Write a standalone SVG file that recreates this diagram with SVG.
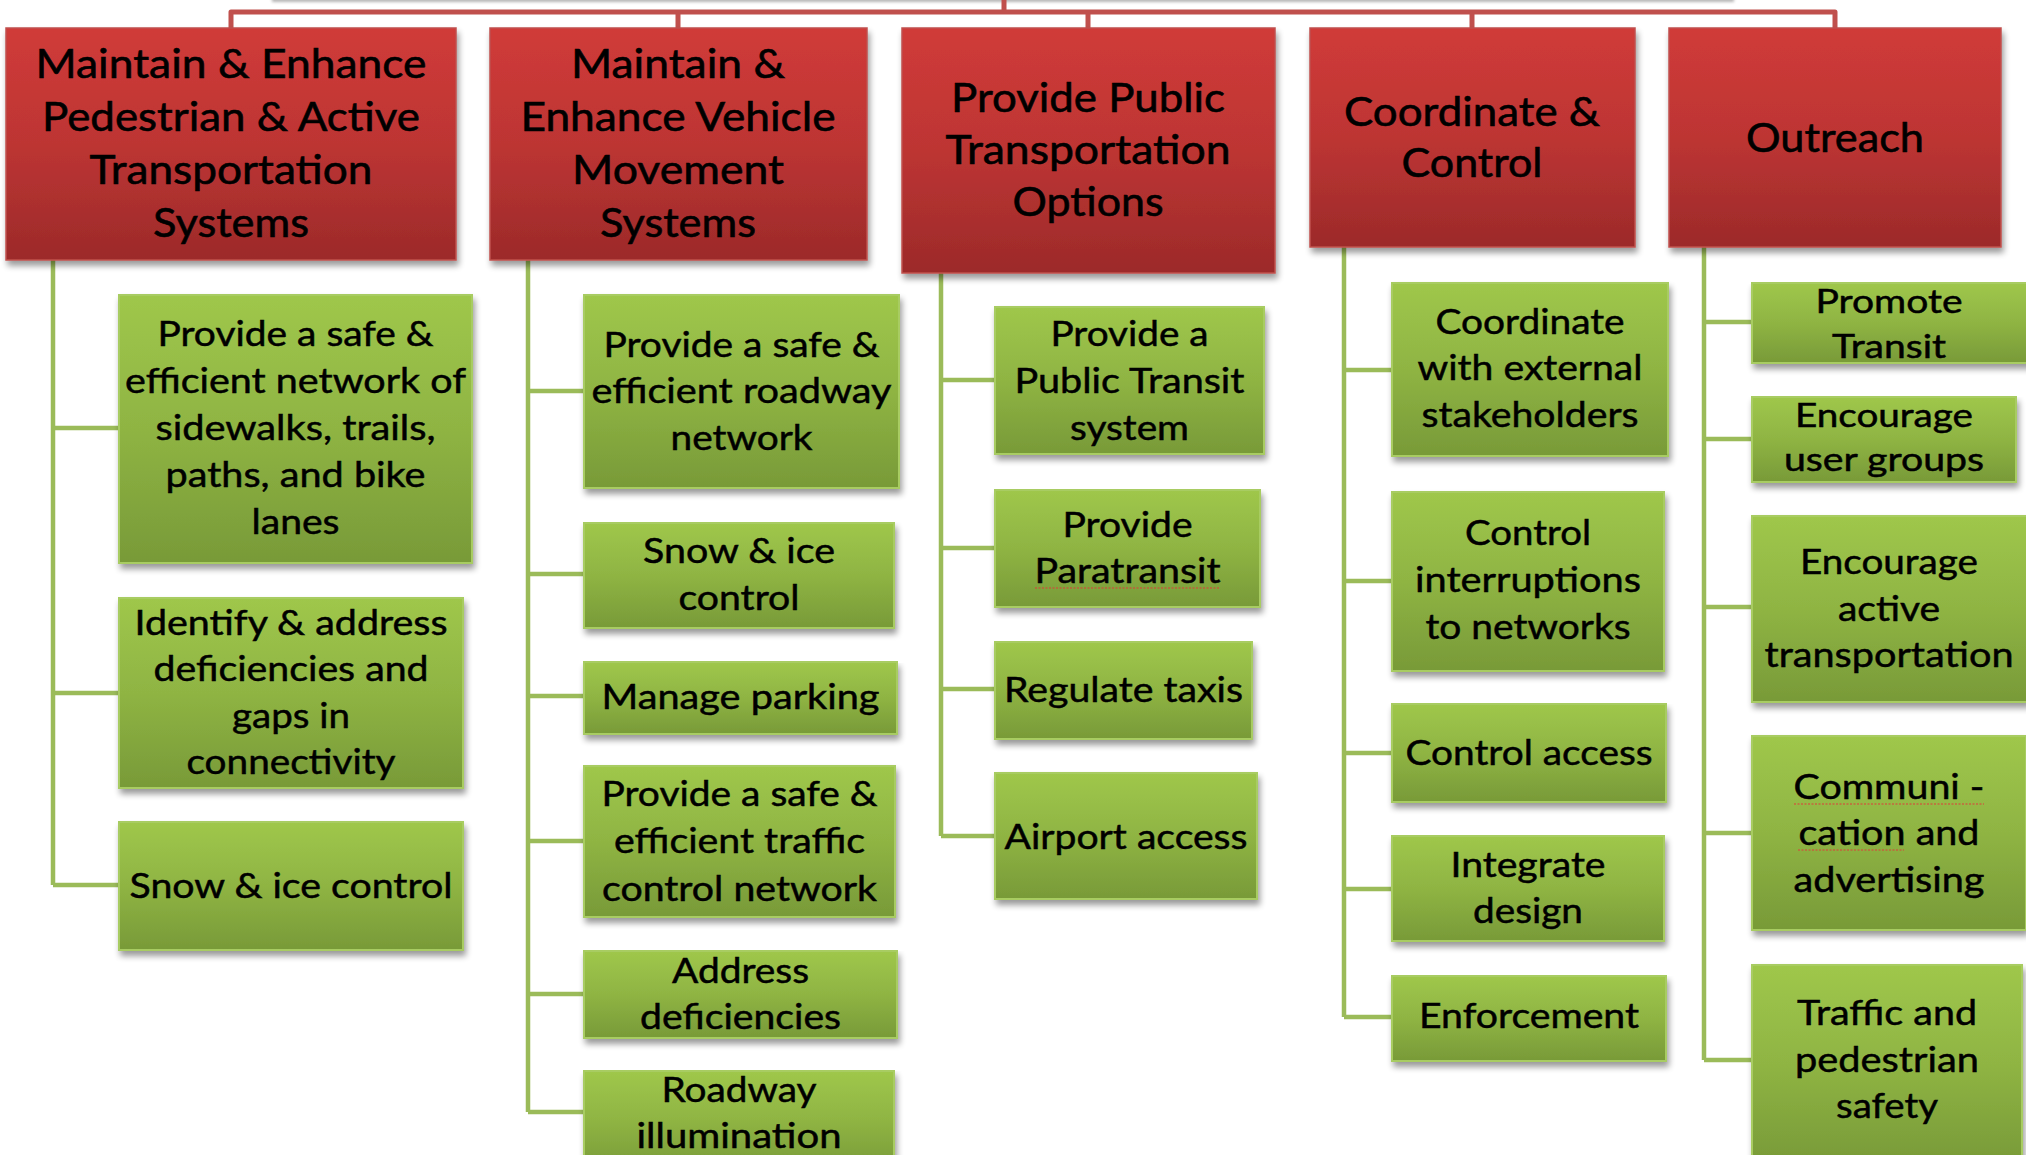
<svg xmlns="http://www.w3.org/2000/svg" width="2026" height="1155" viewBox="0 0 2026 1155">
  <style>
    .h { font-family: Lato, "Open Sans", "Liberation Sans", sans-serif; font-size: 41px; text-anchor: middle; fill: #000; stroke: #000; stroke-width: 0.6px; }
    .g { font-family: Lato, "Open Sans", "Liberation Sans", sans-serif; font-size: 35px; text-anchor: middle; fill: #000; stroke: #000; stroke-width: 0.5px; }
    .gs { font-size: 33px; }
    .goal { fill: url(#redFill); stroke: #c0504d; stroke-width: 1.5; filter: url(#shadow); }
    .task { fill: url(#greenFill); stroke: #a8cc62; stroke-width: 2; filter: url(#shadow); }
    .trunk { fill: none; stroke: #c0504d; stroke-width: 5; stroke-linejoin: round; }
    .branch { fill: none; stroke: #9bbb59; stroke-width: 4.5; }
    .spell { fill: none; stroke: #e03a3a; stroke-width: 1.2; stroke-dasharray: 2 1.5; }
  </style>
  <defs>
    <linearGradient id="redFill" x1="0" y1="0" x2="0" y2="1">
      <stop offset="0" stop-color="#d03b39"/>
      <stop offset="0.5" stop-color="#bd3533"/>
      <stop offset="1" stop-color="#9c2a2a"/>
    </linearGradient>
    <linearGradient id="greenFill" x1="0" y1="0" x2="0" y2="1">
      <stop offset="0" stop-color="#9fc74b"/>
      <stop offset="0.5" stop-color="#8fb443"/>
      <stop offset="1" stop-color="#789a38"/>
    </linearGradient>
    <filter id="shadow" x="-5%" y="-5%" width="112%" height="125%">
      <feGaussianBlur in="SourceAlpha" stdDeviation="3"/>
      <feOffset dx="2" dy="5"/>
      <feComponentTransfer><feFuncA type="linear" slope="0.4"/></feComponentTransfer>
      <feMerge><feMergeNode/><feMergeNode in="SourceGraphic"/></feMerge>
    </filter>
    <filter id="soft" x="-5%" y="-100%" width="110%" height="300%">
      <feGaussianBlur stdDeviation="1.5"/>
    </filter>
  </defs>

  <rect width="2026" height="1155" fill="#fff"/>

  <!-- shade cast by the parent box sitting above the top edge -->
  <rect x="272" y="-10" width="1462" height="12" fill="#b5b5b5" filter="url(#soft)"/>

  <g id="connectors">
    <!-- red bus linking the five goal areas -->
    <path class="trunk" d="M1004 0 V12 M231 28 V12 H1835 V28 M678 12 V28 M1088 12 V28 M1472 12 V28"/>
    <!-- pedestrian column -->
    <path class="branch" d="M53 260 V885 M53 428 H119 M53 693 H119 M53 885 H119"/>
    <!-- vehicle column -->
    <path class="branch" d="M528 260 V1112 M528 391 H584 M528 574 H584 M528 696 H584 M528 841 H584 M528 994 H584 M528 1112 H584"/>
    <!-- transit column -->
    <path class="branch" d="M941 273 V836 M941 380 H995 M941 548 H995 M941 689 H995 M941 836 H995"/>
    <!-- coordinate column -->
    <path class="branch" d="M1344 247 V1017 M1344 370 H1392 M1344 581 H1392 M1344 753 H1392 M1344 889 H1392 M1344 1017 H1392"/>
    <!-- outreach column -->
    <path class="branch" d="M1704 247 V1060 M1704 322 H1752 M1704 439 H1752 M1704 607 H1752 M1704 833 H1752 M1704 1060 H1752"/>
  </g>

  <!-- goal areas -->
  <g id="goal-pedestrian">
    <rect class="goal" x="6" y="28" width="450" height="232"/>
    <text class="h" x="231" y="78" textLength="391" lengthAdjust="spacingAndGlyphs">Maintain &amp; Enhance</text>
    <text class="h" x="231" y="131" textLength="378" lengthAdjust="spacingAndGlyphs">Pedestrian &amp; Active</text>
    <text class="h" x="231" y="184" textLength="283" lengthAdjust="spacingAndGlyphs">Transportation</text>
    <text class="h" x="231" y="237" textLength="156" lengthAdjust="spacingAndGlyphs">Systems</text>
  </g>
  <g id="goal-vehicle">
    <rect class="goal" x="490" y="28" width="377" height="232"/>
    <text class="h" x="678" y="78" textLength="214" lengthAdjust="spacingAndGlyphs">Maintain &amp;</text>
    <text class="h" x="678" y="131" textLength="315" lengthAdjust="spacingAndGlyphs">Enhance Vehicle</text>
    <text class="h" x="678" y="184" textLength="212" lengthAdjust="spacingAndGlyphs">Movement</text>
    <text class="h" x="678" y="237" textLength="156" lengthAdjust="spacingAndGlyphs">Systems</text>
  </g>
  <g id="goal-transit">
    <rect class="goal" x="902" y="28" width="373" height="245"/>
    <text class="h" x="1088" y="112" textLength="274" lengthAdjust="spacingAndGlyphs">Provide Public</text>
    <text class="h" x="1088" y="164" textLength="285" lengthAdjust="spacingAndGlyphs">Transportation</text>
    <text class="h" x="1088" y="216" textLength="151" lengthAdjust="spacingAndGlyphs">Options</text>
  </g>
  <g id="goal-coordinate">
    <rect class="goal" x="1310" y="28" width="325" height="219"/>
    <text class="h" x="1472" y="126" textLength="256" lengthAdjust="spacingAndGlyphs">Coordinate &amp;</text>
    <text class="h" x="1472" y="177" textLength="141" lengthAdjust="spacingAndGlyphs">Control</text>
  </g>
  <g id="goal-outreach">
    <rect class="goal" x="1669" y="28" width="332" height="219"/>
    <text class="h" x="1835" y="152" textLength="178" lengthAdjust="spacingAndGlyphs">Outreach</text>
  </g>

  <!-- pedestrian tasks -->
  <g id="ped-network">
    <rect class="task" x="119" y="295" width="353" height="268"/>
    <text class="g" x="295.5" y="346" textLength="276" lengthAdjust="spacingAndGlyphs">Provide a safe &amp;</text>
    <text class="g" x="295.5" y="393" textLength="341" lengthAdjust="spacingAndGlyphs">efficient network of</text>
    <text class="g" x="295.5" y="440" textLength="280" lengthAdjust="spacingAndGlyphs">sidewalks, trails,</text>
    <text class="g" x="295.5" y="487" textLength="260" lengthAdjust="spacingAndGlyphs">paths, and bike</text>
    <text class="g" x="295.5" y="534" textLength="88" lengthAdjust="spacingAndGlyphs">lanes</text>
  </g>
  <g id="ped-gaps">
    <rect class="task" x="119" y="598" width="344" height="190"/>
    <text class="g" x="291" y="635" textLength="313" lengthAdjust="spacingAndGlyphs">Identify &amp; address</text>
    <text class="g" x="291" y="681" textLength="275" lengthAdjust="spacingAndGlyphs">deficiencies and</text>
    <text class="g" x="291" y="728" textLength="118" lengthAdjust="spacingAndGlyphs">gaps in</text>
    <text class="g" x="291" y="774" textLength="209" lengthAdjust="spacingAndGlyphs">connectivity</text>
  </g>
  <g id="ped-snow">
    <rect class="task" x="119" y="822" width="344" height="128"/>
    <text class="g" x="291" y="898" textLength="323" lengthAdjust="spacingAndGlyphs">Snow &amp; ice control</text>
  </g>

  <!-- vehicle tasks -->
  <g id="veh-roadway">
    <rect class="task" x="584" y="295" width="315" height="193"/>
    <text class="g" x="741.5" y="357" textLength="276" lengthAdjust="spacingAndGlyphs">Provide a safe &amp;</text>
    <text class="g" x="741.5" y="403" textLength="300" lengthAdjust="spacingAndGlyphs">efficient roadway</text>
    <text class="g" x="741.5" y="450" textLength="142" lengthAdjust="spacingAndGlyphs">network</text>
  </g>
  <g id="veh-snow">
    <rect class="task" x="584" y="523" width="310" height="105"/>
    <text class="g" x="739" y="563" textLength="192" lengthAdjust="spacingAndGlyphs">Snow &amp; ice</text>
    <text class="g" x="739" y="610" textLength="121" lengthAdjust="spacingAndGlyphs">control</text>
  </g>
  <g id="veh-parking">
    <rect class="task" x="584" y="662" width="313" height="72"/>
    <text class="g" x="740.5" y="709" textLength="278" lengthAdjust="spacingAndGlyphs">Manage parking</text>
  </g>
  <g id="veh-traffic">
    <rect class="task" x="584" y="766" width="311" height="151"/>
    <text class="g" x="739.5" y="806" textLength="276" lengthAdjust="spacingAndGlyphs">Provide a safe &amp;</text>
    <text class="g" x="739.5" y="853" textLength="251" lengthAdjust="spacingAndGlyphs">efficient traffic</text>
    <text class="g" x="739.5" y="901" textLength="275" lengthAdjust="spacingAndGlyphs">control network</text>
  </g>
  <g id="veh-deficiencies">
    <rect class="task" x="584" y="951" width="313" height="87"/>
    <text class="g" x="740.5" y="983" textLength="137" lengthAdjust="spacingAndGlyphs">Address</text>
    <text class="g" x="740.5" y="1029" textLength="201" lengthAdjust="spacingAndGlyphs">deficiencies</text>
  </g>
  <g id="veh-illumination">
    <rect class="task" x="584" y="1071" width="310" height="100"/>
    <text class="g" x="739" y="1102" textLength="155" lengthAdjust="spacingAndGlyphs">Roadway</text>
    <text class="g" x="739" y="1148" textLength="205" lengthAdjust="spacingAndGlyphs">illumination</text>
  </g>

  <!-- transit tasks -->
  <g id="tr-system">
    <rect class="task" x="995" y="307" width="269" height="147"/>
    <text class="g" x="1129.5" y="346" textLength="158" lengthAdjust="spacingAndGlyphs">Provide a</text>
    <text class="g" x="1129.5" y="393" textLength="230" lengthAdjust="spacingAndGlyphs">Public Transit</text>
    <text class="g" x="1129.5" y="440" textLength="119" lengthAdjust="spacingAndGlyphs">system</text>
  </g>
  <g id="tr-paratransit">
    <rect class="task" x="995" y="490" width="265" height="117"/>
    <text class="g" x="1127.5" y="537" textLength="130" lengthAdjust="spacingAndGlyphs">Provide</text>
    <text class="g" x="1127.5" y="583" textLength="186" lengthAdjust="spacingAndGlyphs">Paratransit</text>
    <path class="spell" d="M1035 588 H1220"/>
  </g>
  <g id="tr-taxis">
    <rect class="task" x="995" y="642" width="257" height="97"/>
    <text class="g" x="1123.5" y="702" textLength="239" lengthAdjust="spacingAndGlyphs">Regulate taxis</text>
  </g>
  <g id="tr-airport">
    <rect class="task" x="995" y="773" width="262" height="126"/>
    <text class="g" x="1126" y="849" textLength="243" lengthAdjust="spacingAndGlyphs">Airport access</text>
  </g>

  <!-- coordinate & control tasks -->
  <g id="cc-stakeholders">
    <rect class="task" x="1392" y="283" width="276" height="173"/>
    <text class="g" x="1530" y="334" textLength="189" lengthAdjust="spacingAndGlyphs">Coordinate</text>
    <text class="g" x="1530" y="380" textLength="225" lengthAdjust="spacingAndGlyphs">with external</text>
    <text class="g" x="1530" y="427" textLength="217" lengthAdjust="spacingAndGlyphs">stakeholders</text>
  </g>
  <g id="cc-interruptions">
    <rect class="task" x="1392" y="492" width="272" height="179"/>
    <text class="g" x="1528" y="545" textLength="126" lengthAdjust="spacingAndGlyphs">Control</text>
    <text class="g" x="1528" y="592" textLength="226" lengthAdjust="spacingAndGlyphs">interruptions</text>
    <text class="g" x="1528" y="639" textLength="205" lengthAdjust="spacingAndGlyphs">to networks</text>
  </g>
  <g id="cc-access">
    <rect class="task" x="1392" y="704" width="274" height="98"/>
    <text class="g" x="1529" y="765" textLength="247" lengthAdjust="spacingAndGlyphs">Control access</text>
  </g>
  <g id="cc-design">
    <rect class="task" x="1392" y="836" width="272" height="105"/>
    <text class="g" x="1528" y="877" textLength="155" lengthAdjust="spacingAndGlyphs">Integrate</text>
    <text class="g" x="1528" y="923" textLength="110" lengthAdjust="spacingAndGlyphs">design</text>
  </g>
  <g id="cc-enforcement">
    <rect class="task" x="1392" y="976" width="274" height="85"/>
    <text class="g" x="1529" y="1028" textLength="220" lengthAdjust="spacingAndGlyphs">Enforcement</text>
  </g>

  <!-- outreach tasks -->
  <g id="out-transit">
    <rect class="task" x="1752" y="283" width="278" height="80"/>
    <text class="g gs" x="1889" y="313" textLength="147" lengthAdjust="spacingAndGlyphs">Promote</text>
    <text class="g gs" x="1889" y="358" textLength="114" lengthAdjust="spacingAndGlyphs">Transit</text>
  </g>
  <g id="out-groups">
    <rect class="task" x="1752" y="397" width="264" height="85"/>
    <text class="g gs" x="1884" y="427" textLength="178" lengthAdjust="spacingAndGlyphs">Encourage</text>
    <text class="g gs" x="1884" y="471" textLength="200" lengthAdjust="spacingAndGlyphs">user groups</text>
  </g>
  <g id="out-active">
    <rect class="task" x="1752" y="516" width="276" height="186"/>
    <text class="g" x="1889" y="574" textLength="178" lengthAdjust="spacingAndGlyphs">Encourage</text>
    <text class="g" x="1889" y="621" textLength="102" lengthAdjust="spacingAndGlyphs">active</text>
    <text class="g" x="1889" y="667" textLength="249" lengthAdjust="spacingAndGlyphs">transportation</text>
  </g>
  <g id="out-communication">
    <rect class="task" x="1752" y="736" width="274" height="194"/>
    <text class="g" x="1889" y="799" textLength="191" lengthAdjust="spacingAndGlyphs">Communi -</text>
    <text class="g" x="1889" y="845" textLength="181" lengthAdjust="spacingAndGlyphs">cation and</text>
    <text class="g" x="1889" y="892" textLength="191" lengthAdjust="spacingAndGlyphs">advertising</text>
    <path class="spell" d="M1794 804 H1984 M1798 850 H1904"/>
  </g>
  <g id="out-safety">
    <rect class="task" x="1752" y="965" width="270" height="200"/>
    <text class="g" x="1887" y="1025" textLength="180" lengthAdjust="spacingAndGlyphs">Traffic and</text>
    <text class="g" x="1887" y="1072" textLength="184" lengthAdjust="spacingAndGlyphs">pedestrian</text>
    <text class="g" x="1887" y="1118" textLength="102" lengthAdjust="spacingAndGlyphs">safety</text>
  </g>
</svg>
